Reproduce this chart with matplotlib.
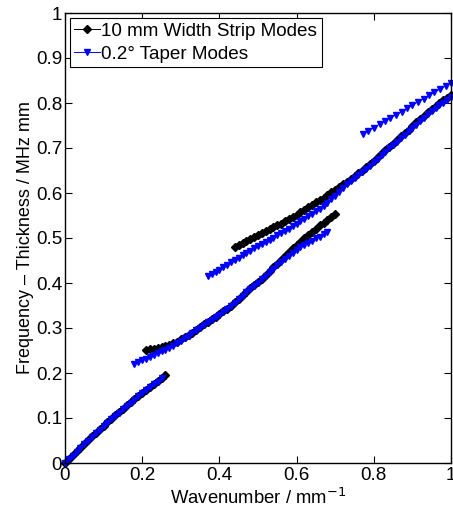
import matplotlib
matplotlib.use("Agg")
import matplotlib.pyplot as plt

plt.rcParams['font.family'] = ['Liberation Sans', 'DejaVu Sans']

# ---- data ----
strip_a_x = [0.00, 0.01, 0.02, 0.03, 0.04, 0.05, 0.06, 0.07, 0.08, 0.09, 0.10, 0.11, 0.12, 0.13,
             0.14, 0.15, 0.16, 0.17, 0.18, 0.19, 0.20, 0.21, 0.22, 0.23, 0.24, 0.25, 0.26]
strip_a_y = [0.000, 0.009, 0.017, 0.026, 0.034, 0.043, 0.051, 0.059, 0.067, 0.075, 0.083, 0.091,
             0.098, 0.106, 0.113, 0.121, 0.128, 0.135, 0.142, 0.149, 0.156, 0.163, 0.169, 0.176,
             0.182, 0.189, 0.195]

strip_b_x = [0.21, 0.22, 0.23, 0.24, 0.25, 0.26, 0.27, 0.28, 0.29, 0.30, 0.31, 0.32, 0.33, 0.34,
             0.35, 0.36, 0.37, 0.38, 0.39, 0.40, 0.41, 0.42, 0.43, 0.44, 0.45, 0.46, 0.47, 0.48,
             0.49, 0.50, 0.51, 0.52, 0.53, 0.54, 0.55, 0.56, 0.57, 0.58, 0.59, 0.60, 0.61, 0.62,
             0.63, 0.64, 0.65, 0.66, 0.67, 0.68, 0.69, 0.70]
strip_b_y = [0.252, 0.253, 0.254, 0.256, 0.258, 0.260, 0.262, 0.266, 0.270, 0.275, 0.280, 0.285,
             0.290, 0.296, 0.302, 0.308, 0.314, 0.319, 0.325, 0.331, 0.337, 0.343, 0.350, 0.357,
             0.365, 0.373, 0.380, 0.388, 0.395, 0.403, 0.410, 0.418, 0.427, 0.435, 0.443, 0.452,
             0.460, 0.468, 0.477, 0.485, 0.492, 0.500, 0.507, 0.514, 0.521, 0.528, 0.534, 0.541,
             0.547, 0.553]

strip_c_x = [0.44, 0.45, 0.46, 0.47, 0.48, 0.49, 0.50, 0.51, 0.52, 0.53, 0.54, 0.55, 0.56, 0.57,
             0.58, 0.59, 0.60, 0.61, 0.62, 0.63, 0.64, 0.65, 0.66, 0.67, 0.68, 0.69, 0.70, 0.71,
             0.72, 0.73, 0.74, 0.75, 0.76, 0.77, 0.78, 0.79, 0.80, 0.81, 0.82, 0.83, 0.84, 0.85,
             0.86, 0.87, 0.88, 0.89, 0.90, 0.91, 0.92, 0.93, 0.94, 0.95, 0.96, 0.97, 0.98, 0.99,
             1.00]
strip_c_y = [0.480, 0.485, 0.489, 0.494, 0.498, 0.503, 0.507, 0.511, 0.515, 0.519, 0.524, 0.528,
             0.532, 0.537, 0.542, 0.547, 0.552, 0.557, 0.562, 0.568, 0.573, 0.579, 0.584, 0.590,
             0.596, 0.602, 0.607, 0.613, 0.619, 0.625, 0.631, 0.637, 0.644, 0.650, 0.657, 0.665,
             0.672, 0.680, 0.688, 0.695, 0.703, 0.710, 0.718, 0.726, 0.733, 0.741, 0.749, 0.757,
             0.764, 0.772, 0.779, 0.787, 0.793, 0.800, 0.806, 0.812, 0.818]

taper_a_x = [0.00, 0.01, 0.02, 0.03, 0.04, 0.05, 0.06, 0.07, 0.08, 0.09, 0.10, 0.11, 0.12, 0.13,
             0.14, 0.15, 0.16, 0.17, 0.18, 0.19, 0.20, 0.21, 0.22, 0.23, 0.24, 0.25]
taper_a_y = [0.000, 0.008, 0.016, 0.025, 0.033, 0.042, 0.050, 0.058, 0.066, 0.074, 0.082, 0.090,
             0.097, 0.105, 0.112, 0.120, 0.127, 0.134, 0.141, 0.148, 0.155, 0.162, 0.168, 0.175,
             0.181, 0.188]

taper_b_x = [0.18, 0.19, 0.20, 0.21, 0.22, 0.23, 0.24, 0.25, 0.26, 0.27, 0.28, 0.29, 0.30, 0.31,
             0.32, 0.33, 0.34, 0.35, 0.36, 0.37, 0.38, 0.39, 0.40, 0.41, 0.42, 0.43, 0.44, 0.45,
             0.46, 0.47, 0.48, 0.49, 0.50, 0.51, 0.52, 0.53, 0.54, 0.55, 0.56, 0.57, 0.58, 0.59,
             0.60, 0.61, 0.62, 0.63, 0.64, 0.65, 0.66, 0.67, 0.68]
taper_b_y = [0.220, 0.224, 0.228, 0.232, 0.236, 0.240, 0.244, 0.248, 0.252, 0.256, 0.261, 0.266,
             0.271, 0.277, 0.283, 0.289, 0.295, 0.301, 0.307, 0.313, 0.318, 0.324, 0.330, 0.336,
             0.342, 0.349, 0.356, 0.364, 0.371, 0.379, 0.386, 0.394, 0.401, 0.409, 0.416, 0.424,
             0.432, 0.440, 0.447, 0.454, 0.461, 0.467, 0.473, 0.479, 0.484, 0.489, 0.494, 0.499,
             0.503, 0.508, 0.513]

taper_c_x = [0.37, 0.38, 0.39, 0.40, 0.41, 0.42, 0.43, 0.44, 0.45, 0.46, 0.47, 0.48, 0.49, 0.50,
             0.51, 0.52, 0.53, 0.54, 0.55, 0.56, 0.57, 0.58, 0.59, 0.60, 0.61, 0.62, 0.63, 0.64,
             0.65, 0.66, 0.67, 0.68, 0.69, 0.70, 0.71, 0.72, 0.73, 0.74, 0.75, 0.76, 0.77, 0.78,
             0.79, 0.80, 0.81, 0.82, 0.83, 0.84, 0.85, 0.86, 0.87, 0.88, 0.89, 0.90, 0.91, 0.92,
             0.93, 0.94, 0.95, 0.96, 0.97, 0.98, 0.99, 1.00]
taper_c_y = [0.415, 0.420, 0.425, 0.430, 0.436, 0.441, 0.446, 0.451, 0.456, 0.462, 0.467, 0.472,
             0.477, 0.482, 0.487, 0.491, 0.496, 0.501, 0.506, 0.511, 0.516, 0.521, 0.526, 0.531,
             0.537, 0.542, 0.548, 0.553, 0.559, 0.565, 0.571, 0.578, 0.586, 0.594, 0.603, 0.612,
             0.620, 0.627, 0.634, 0.640, 0.647, 0.654, 0.661, 0.668, 0.676, 0.684, 0.691, 0.699,
             0.706, 0.714, 0.722, 0.729, 0.737, 0.745, 0.752, 0.760, 0.767, 0.775, 0.782, 0.789,
             0.795, 0.801, 0.807, 0.813]

taper_d_x = [0.772, 0.786, 0.800, 0.815, 0.829, 0.843, 0.858, 0.872, 0.886, 0.900, 0.915, 0.929,
             0.943, 0.957, 0.972, 0.986, 1.000]
taper_d_y = [0.731, 0.738, 0.745, 0.753, 0.760, 0.767, 0.774, 0.781, 0.788, 0.795, 0.803, 0.810,
             0.817, 0.824, 0.831, 0.838, 0.845]

strip_label = "10 mm Width Strip Modes"
taper_label = "0.2° Taper Modes"
xticks = [0, 0.2, 0.4, 0.6, 0.8, 1]
yticks = [0, 0.1, 0.2, 0.3, 0.4, 0.5, 0.6, 0.7, 0.8, 0.9, 1]
xtick_labels = ["0", "0.2", "0.4", "0.6", "0.8", "1"]
ytick_labels = ["0", "0.1", "0.2", "0.3", "0.4", "0.5", "0.6", "0.7", "0.8", "0.9", "1"]

FS = 13.6

# ---- figure ----
fig = plt.figure(figsize=(4.53, 5.17), dpi=100)
ax = fig.add_axes([65 / 453, 54 / 517, 386 / 453, 450 / 517])

strip_style = dict(color='black', marker='D', markersize=3.6, linewidth=0.7, clip_on=False)
taper_style = dict(color='blue', marker='v', markersize=5.0, linewidth=0.7, clip_on=False)

# strip modes first, taper modes drawn over them
ax.plot(strip_a_x, strip_a_y, label=strip_label, **strip_style)
ax.plot(strip_b_x, strip_b_y, **strip_style)
ax.plot(strip_c_x, strip_c_y, **strip_style)
ax.plot(taper_a_x, taper_a_y, label=taper_label, **taper_style)
ax.plot(taper_b_x, taper_b_y, **taper_style)
ax.plot(taper_c_x, taper_c_y, **taper_style)
ax.plot(taper_d_x, taper_d_y, **taper_style)

ax.set_xlim(0, 1)
ax.set_ylim(0, 1)
ax.set_xticks(xticks)
ax.set_xticklabels(xtick_labels)
ax.set_yticks(yticks)
ax.set_yticklabels(ytick_labels)
ax.tick_params(direction='in', top=True, right=True, length=5, width=0.8, labelsize=FS, pad=3)
ax.tick_params(axis='y', pad=2)
for s in ax.spines.values():
    s.set_linewidth(1.0)

ax.set_xlabel("Wavenumber / mm$^{-1}$", fontsize=13.3, labelpad=3)
ax.set_ylabel("Frequency \u2013 Thickness / MHz mm", fontsize=13.0, labelpad=1)

leg = ax.legend(loc='upper left', bbox_to_anchor=(0.0, 1.0), fontsize=FS,
                frameon=True, fancybox=False, framealpha=1, edgecolor='black',
                handlelength=1.35, handletextpad=0.08, borderpad=0.25, labelspacing=0.3,
                borderaxespad=0.25, markerscale=1.0)
leg.get_frame().set_linewidth(0.8)

fig.savefig("out.png", dpi=100)
